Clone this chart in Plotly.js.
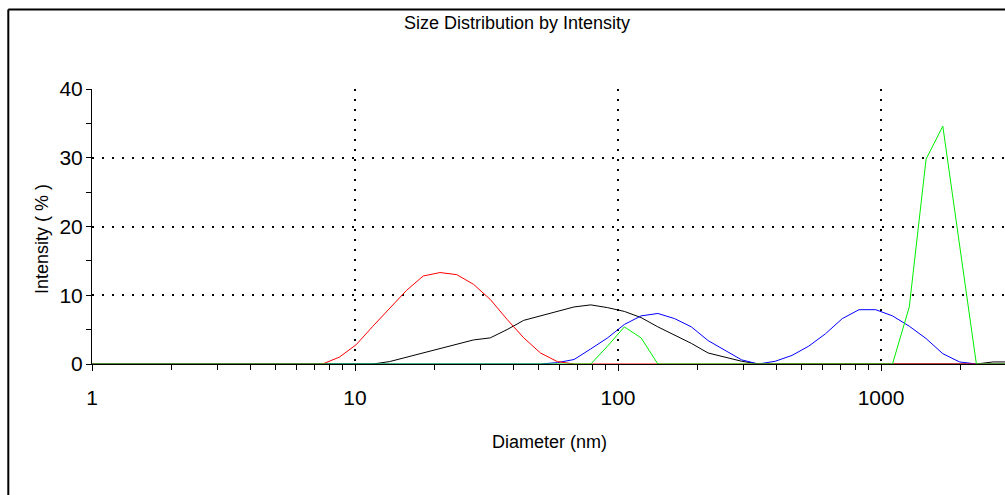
<!DOCTYPE html>
<html>
<head>
<meta charset="utf-8">
<script src="https://cdn.plot.ly/plotly-3.0.1.min.js"></script>
<style>
html,body{margin:0;padding:0;background:#fff;}
#chart{width:1005px;height:495px;}
</style>
</head>
<body>
<div id="chart"></div>
<script>
// Diameter bins (nm)
const diameters = [0.4, 0.4632, 0.5365, 0.6213, 0.7195, 0.8332, 0.9649, 1.117, 1.294, 1.499,
  1.736, 2.01, 2.328, 2.696, 3.122, 3.615, 4.187, 4.849, 5.615, 6.503,
  7.531, 8.721, 10.1, 11.7, 13.54, 15.69, 18.17, 21.04, 24.36, 28.21,
  32.67, 37.84, 43.82, 50.75, 58.77, 68.06, 78.82, 91.28, 105.7, 122.4,
  141.8, 164.2, 190.1, 220.2, 255.0, 295.3, 342.0, 396.1, 458.7, 531.2,
  615.1, 712.4, 825.0, 955.4, 1106, 1281, 1484, 1718, 1990, 2305,
  2669, 3091];

// Intensity (%) per record
const redSeries = [0,0,0,0,0,0,0,0,0,0,
  0,0,0,0,0,0,0,0,0,0,
  0,1.0,2.8,5.5,8.1,10.7,12.8,13.3,13.0,11.6,
  9.4,6.5,3.8,1.6,0.35,0,0,0,0,0,
  0,0,0,0,0,0,0,0,0,0,
  0,0,0,0,0,0,0,0,0,0,
  0,0];

const blackSeries = [0,0,0,0,0,0,0,0,0,0,
  0,0,0,0,0,0,0,0,0,0,
  0,0,0,0,0.35,1.0,1.6,2.3,2.9,3.5,
  3.8,5.0,6.35,7.0,7.7,8.3,8.6,8.2,7.65,6.75,
  5.4,4.2,3.0,1.6,1.05,0.4,0,0,0,0,
  0,0,0,0,0,0,0,0,0,0,
  0.3,0.3];

const blueSeries = [0,0,0,0,0,0,0,0,0,0,
  0,0,0,0,0,0,0,0,0,0,
  0,0,0,0,0,0,0,0,0,0,
  0,0,0,0,0.2,0.65,2.2,3.8,5.75,7.0,
  7.35,6.6,5.4,3.4,2.0,0.6,0,0.4,1.25,2.6,
  4.4,6.6,7.9,7.9,7.0,5.5,3.7,1.5,0.3,0,
  0,0];

const greenSeries = [0,0,0,0,0,0,0,0,0,0,
  0,0,0,0,0,0,0,0,0,0,
  0,0,0,0,0,0,0,0,0,0,
  0,0,0,0,0,0,0,2.6,5.4,3.8,
  0,0,0,0,0,0,0,0,0,0,
  0,0,0,0,0,8.3,29.8,34.6,17.2,0,
  0,0];

const xTickVals = [1, 10, 100, 1000];
const xTickText = ['1', '10', '100', '1000'];
const xMinorVals = [2,3,4,5,6,7,8,9, 20,30,40,50,60,70,80,90,
  200,300,400,500,600,700,800,900, 2000];
const yTickVals = [0, 10, 20, 30, 40];
const yMinorVals = [5, 15, 25, 35];

const seriesList = [
  {y: blackSeries, color: '#000000'},
  {y: blueSeries, color: '#0000ff'},
  {y: redSeries, color: '#ff0000'},
  {y: greenSeries, color: '#00ee00'}
];

const traces = seriesList.map(s => ({
  type: 'scatter', mode: 'lines', x: diameters, y: s.y,
  line: {color: s.color, width: 1}, hoverinfo: 'skip', showlegend: false
}));

const fontFam = 'Liberation Sans, Arial, sans-serif';

const layout = {
  width: 1005, height: 495,
  margin: {l: 92, r: 0, t: 89, b: 131},
  paper_bgcolor: '#ffffff', plot_bgcolor: '#ffffff',
  showlegend: false,
  title: {
    text: 'Size Distribution by Intensity',
    font: {family: fontFam, size: 18, color: '#000'},
    xref: 'container', yref: 'container',
    x: 517 / 1005, xanchor: 'center',
    y: 1 - 22.5 / 495, yanchor: 'middle'
  },
  xaxis: {
    type: 'log', range: [0, 3.4715],
    showline: true, linecolor: '#000', linewidth: 1,
    ticks: 'outside', ticklen: 6, tickcolor: '#000', tickwidth: 1,
    tickmode: 'array', tickvals: xTickVals, ticktext: xTickText,
    ticklabelstandoff: 9,
    tickfont: {family: fontFam, size: 21, color: '#000'},
    showgrid: true, gridcolor: '#000', gridwidth: 2, griddash: '2px,8px',
    minor: {tickvals: xMinorVals, ticks: 'outside', ticklen: 5, tickcolor: '#000', tickwidth: 1, showgrid: false},
    zeroline: false, fixedrange: true
  },
  yaxis: {
    range: [0, 40],
    showline: true, linecolor: '#000', linewidth: 1,
    ticks: 'outside', ticklen: 5, tickcolor: '#000', tickwidth: 1,
    tickmode: 'array', tickvals: yTickVals,
    ticklabelstandoff: -1,
    tickfont: {family: fontFam, size: 21, color: '#000'},
    showgrid: true, gridcolor: '#000', gridwidth: 2, griddash: '2px,8px',
    minor: {tickvals: yMinorVals, ticks: 'outside', ticklen: 5, tickcolor: '#000', tickwidth: 1, showgrid: false},
    zeroline: false, fixedrange: true
  },
  annotations: [
    {text: 'Diameter (nm)', xref: 'paper', yref: 'paper',
     x: (549 - 92) / 913, y: (364 - 441.5) / 275, xanchor: 'center', yanchor: 'middle',
     showarrow: false, font: {family: fontFam, size: 18, color: '#000'}},
    {text: 'Intensity ( % )', xref: 'paper', yref: 'paper',
     x: (42 - 92) / 913, y: (364 - 239) / 275, xanchor: 'center', yanchor: 'middle',
     textangle: -90, showarrow: false,
     font: {family: fontFam, size: 18, color: '#000'}}
  ],
  shapes: [
    {type: 'line', xref: 'paper', yref: 'paper',
     x0: (8.3 - 92) / 913, x1: 1.2, y0: (364 - 9.5) / 275, y1: (364 - 9.5) / 275,
     line: {color: '#000', width: 2}},
    {type: 'line', xref: 'paper', yref: 'paper',
     x0: (8.3 - 92) / 913, x1: (8.3 - 92) / 913, y0: (364 - 9.5) / 275, y1: -0.6,
     line: {color: '#000', width: 2}}
  ]
};

Plotly.newPlot('chart', traces, layout, {displayModeBar: false, staticPlot: true});
</script>
</body>
</html>
